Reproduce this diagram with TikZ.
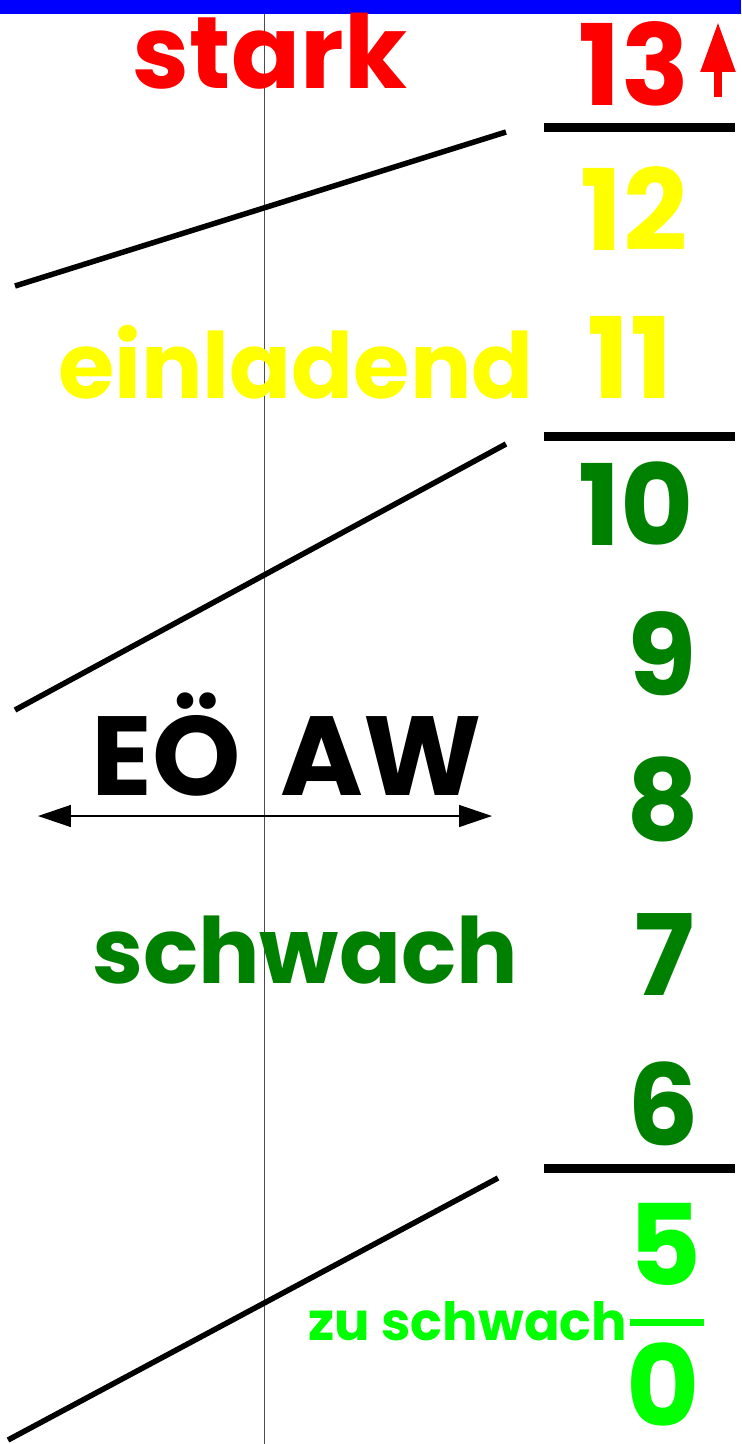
\documentclass[tikz,border=0pt]{standalone}
\usepackage{fontspec}
\setmainfont{Poppins}
\usepackage{tikz}
\usetikzlibrary{arrows.meta}
\definecolor{barblue}{HTML}{0000FF}
\definecolor{hcpred}{HTML}{FF0000}
\definecolor{hcpyellow}{HTML}{FFFF00}
\definecolor{hcpgreen}{HTML}{008000}
\definecolor{hcplime}{HTML}{00FF00}
\tikzset{
  num/.style={anchor=base,inner sep=0pt,font=\fontsize{64}{64}\selectfont\bfseries},
  word/.style={anchor=base,inner sep=0pt,font=\fontsize{52}{52}\selectfont\bfseries},
  small/.style={anchor=base,inner sep=0pt,font=\fontsize{30}{30}\selectfont\bfseries},
  sep/.style={line width=0.18cm},
  slope/.style={line width=0.11cm},
  axis/.style={line width=0.5pt,black!70}
}
\begin{document}
\begin{tikzpicture}[x=0.02cm,y=-0.02cm]
\useasboundingbox (0,0) rectangle (741,1444);
\fill[barblue] (0,0) rectangle (741,14);
\draw[axis] (264,14) -- (264,1444);

% top: strong
\node[word,text=hcpred,font=\fontsize{58}{58}\selectfont\bfseries] (stark) at (270,88) {stark};
\node[num,text=hcpred] (n13) at (634,105) {13};
\coordinate (upbot) at (718,97);
\coordinate (uptop) at (718,22);
\draw[hcpred,line width=0.17cm,-{Triangle[length=1cm,width=0.66cm]}] (upbot) -- (uptop);

\coordinate (s1a) at (544,127); \coordinate (s1b) at (735,127);
\draw[sep] (s1a) -- (s1b);
\coordinate (d1a) at (15,286); \coordinate (d1b) at (506,132);
\draw[slope] (d1a) -- (d1b);

% invitational
\node[num,text=hcpyellow] (n12) at (634,250) {12};
\node[word,text=hcpyellow] (einl) at (296,398) {einladend};
\node[num,text=hcpyellow] (n11) at (630,398) {11};

\coordinate (s2a) at (544,436); \coordinate (s2b) at (735,436);
\draw[sep] (s2a) -- (s2b);
\coordinate (d2a) at (15,710); \coordinate (d2b) at (506,444);
\draw[slope] (d2a) -- (d2b);

% weak
\node[num,text=hcpgreen] (n10) at (636,545) {10};
\node[num,text=hcpgreen] (n9) at (662,695) {9};
\node[num] (eoe) at (166,795) {EÖ};
\node[num] (aw) at (381,795) {AW};
\coordinate (arrl) at (38,816); \coordinate (arrr) at (492,816);
\draw[line width=0.8pt,{Triangle[length=0.66cm,width=0.44cm]}-{Triangle[length=0.66cm,width=0.44cm]}] (arrl) -- (arrr);
\node[num,text=hcpgreen] (n8) at (663,840) {8};
\node[word,text=hcpgreen] (schw) at (305,983) {schwach};
\node[num,text=hcpgreen] (n7) at (665,995) {7};
\node[num,text=hcpgreen] (n6) at (663,1145) {6};

\coordinate (s3a) at (544,1168); \coordinate (s3b) at (735,1168);
\draw[sep] (s3a) -- (s3b);
\coordinate (d3a) at (8,1440); \coordinate (d3b) at (498,1178);
\draw[slope] (d3a) -- (d3b);

% too weak
\node[num,text=hcplime] (n5) at (665,1285) {5};
\node[small,text=hcplime] (zuschw) at (468,1340) {zu schwach};
\coordinate (zl) at (630,1322); \coordinate (zr) at (704,1322);
\draw[hcplime,line width=0.14cm] (zl) -- (zr);
\node[num,text=hcplime] (n0) at (663,1426) {0};
\end{tikzpicture}
\end{document}
